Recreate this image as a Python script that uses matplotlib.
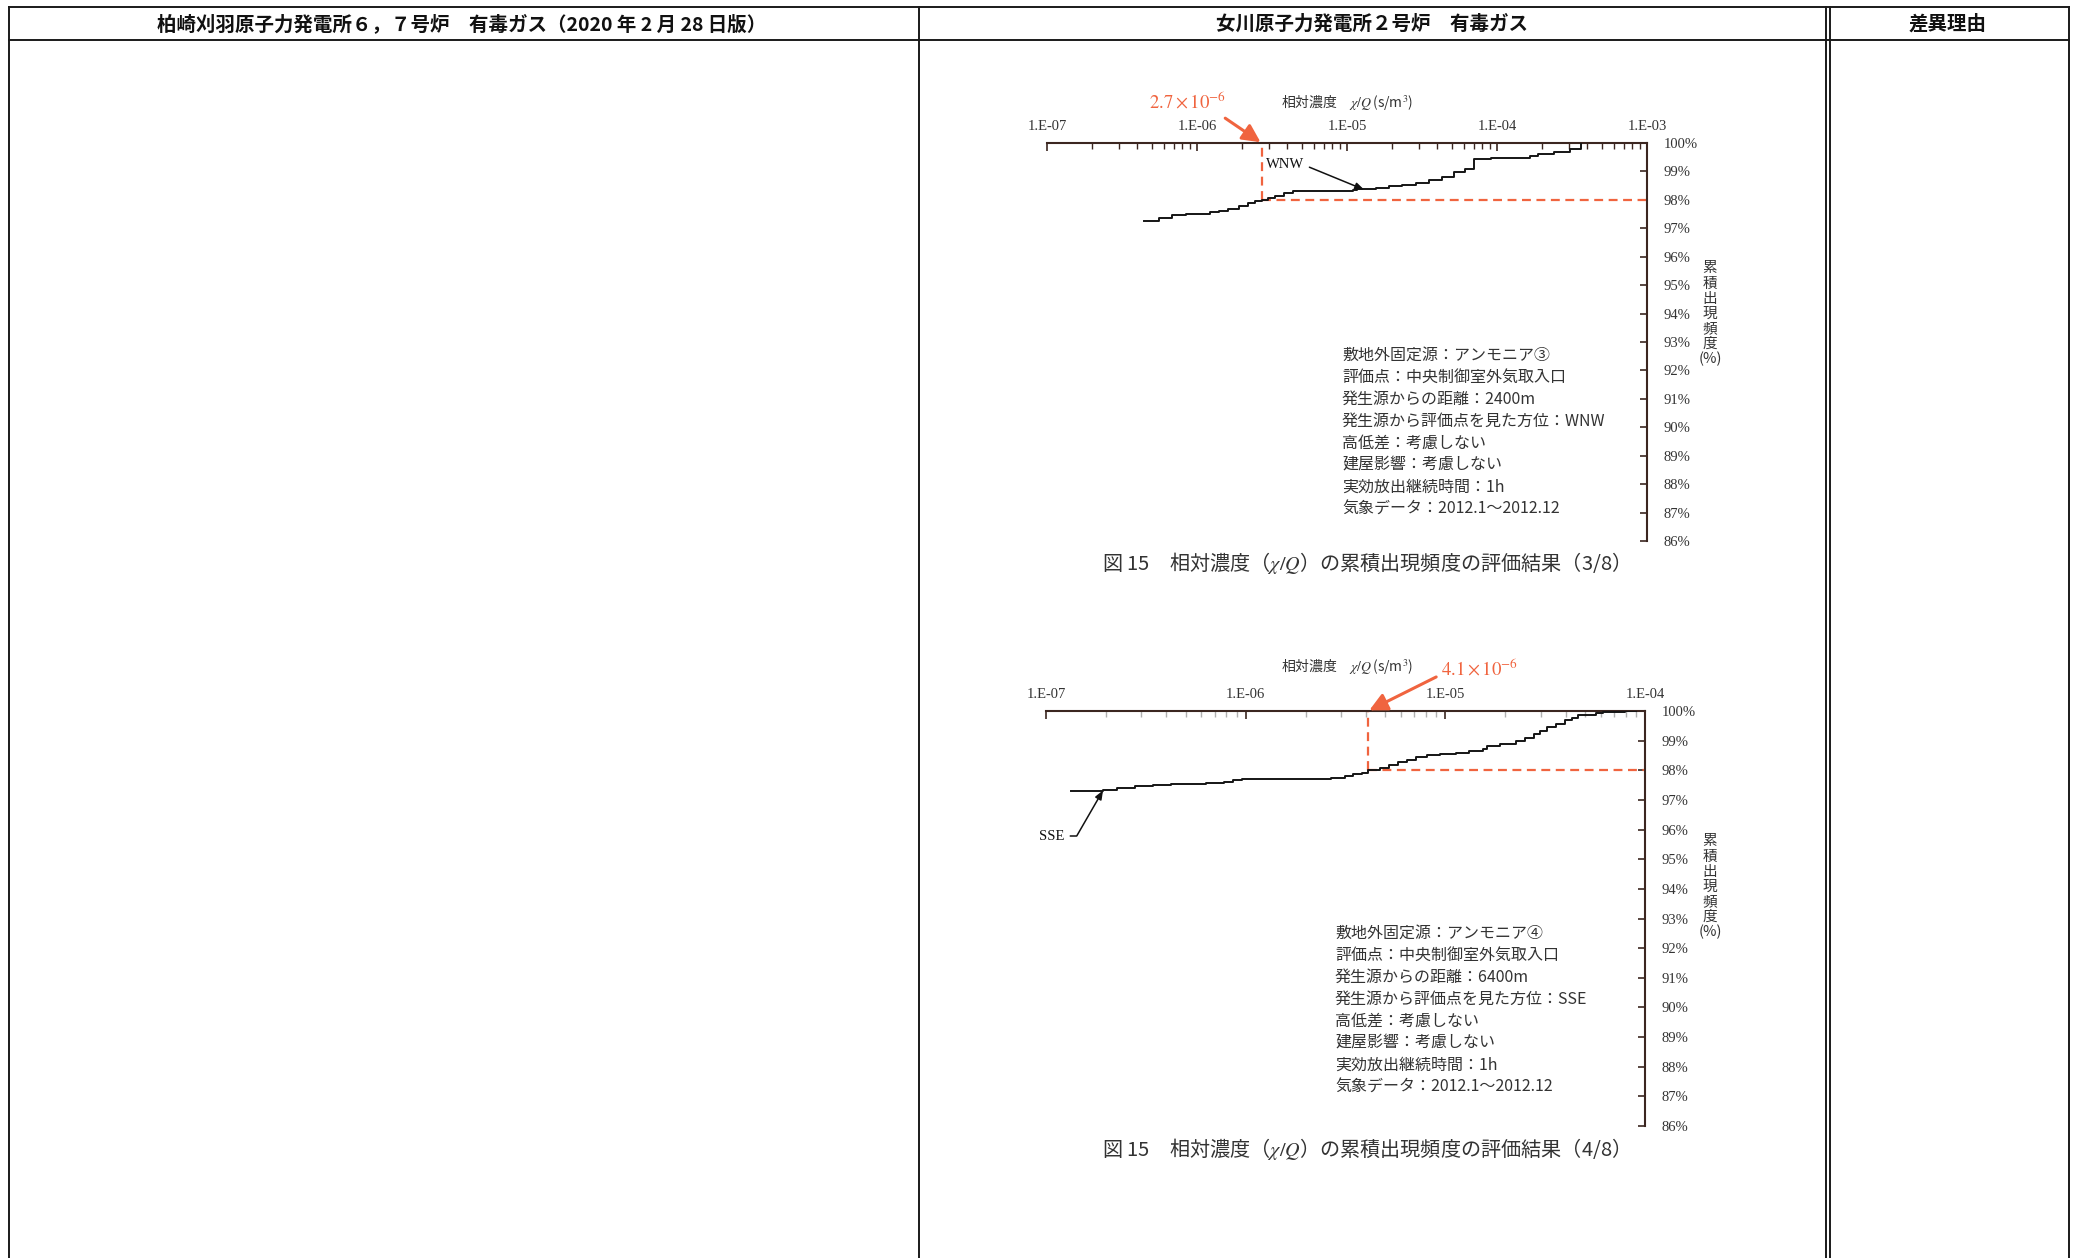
"""
Comparison page: cumulative frequency of relative concentration (chi/Q),
two step curves (WNW, SSE) drawn inside a three-column table layout.
"""

import matplotlib

matplotlib.use("Agg")

import matplotlib.pyplot as plt
import numpy as np
from matplotlib.ticker import FixedLocator, FuncFormatter, LogLocator, NullFormatter

W, H = 2078, 1258

plt.rcParams["font.family"] = ["Noto Sans CJK JP", "DejaVu Sans"]
plt.rcParams["mathtext.fontset"] = "stix"

# ---------------------------------------------------------------------------
# Data
# ---------------------------------------------------------------------------

HEADERS = [
    "柏崎刈羽原子力発電所６，７号炉　有毒ガス（2020 年 2 月 28 日版）",
    "女川原子力発電所２号炉　有毒ガス",
    "差異理由",
]

# Figure 15 (3/8): WNW, chi/Q in s/m^3 vs cumulative frequency in %
WNW_X = [4.4e-7, 5.6e-7, 6.8e-7, 8.4e-7, 1.22e-6, 1.40e-6, 1.61e-6, 1.91e-6,
         2.19e-6, 2.43e-6, 2.7e-6, 2.98e-6, 3.30e-6, 3.79e-6, 4.35e-6,
         1.10e-5, 1.17e-5, 1.55e-5, 1.90e-5, 2.33e-5, 2.87e-5, 3.52e-5,
         4.33e-5, 5.13e-5, 6.09e-5, 6.99e-5, 9.19e-5, 1.65e-4, 1.89e-4,
         2.40e-4, 3.05e-4, 3.62e-4]
WNW_Y = [97.24, 97.35, 97.45, 97.50, 97.57, 97.62, 97.67, 97.77,
         97.90, 97.97, 98.00, 98.08, 98.15, 98.23, 98.31,
         98.34, 98.37, 98.41, 98.47, 98.52, 98.60, 98.70,
         98.81, 98.99, 99.10, 99.43, 99.48, 99.53, 99.63,
         99.70, 99.80, 100.0]

# Figure 15 (4/8): SSE
SSE_X = [1.33e-7, 1.93e-7, 2.28e-7, 2.79e-7, 3.43e-7, 4.21e-7, 6.35e-7, 7.80e-7,
         8.64e-7, 9.57e-7, 2.68e-6, 3.13e-6, 3.46e-6, 3.84e-6, 4.1e-6,
         4.71e-6, 5.22e-6, 5.78e-6, 6.41e-6, 7.10e-6, 8.07e-6, 9.42e-6,
         1.13e-5, 1.32e-5, 1.54e-5, 1.62e-5, 1.88e-5, 2.25e-5, 2.50e-5,
         2.77e-5, 2.99e-5, 3.24e-5, 3.58e-5, 3.97e-5, 4.29e-5, 4.63e-5,
         5.69e-5, 6.14e-5, 7.94e-5, 9.03e-5]
SSE_Y = [97.29, 97.35, 97.40, 97.47, 97.52, 97.54, 97.58, 97.62,
         97.67, 97.72, 97.75, 97.80, 97.86, 97.92, 98.00,
         98.07, 98.18, 98.27, 98.36, 98.44, 98.51, 98.55,
         98.60, 98.65, 98.72, 98.82, 98.88, 98.98, 99.10,
         99.21, 99.33, 99.47, 99.56, 99.68, 99.78, 99.86,
         99.92, 99.95, 99.99, 100.0]

THRESHOLDS = [2.7e-6, 4.1e-6]
THRESHOLD_LABELS = [r"$2.7\times10^{-6}$", r"$4.1\times10^{-6}$"]
TARGET_PCT = 98.0
Y_TICKS = list(range(86, 101))

INFO_3 = ["敷地外固定源：アンモニア③", "評価点：中央制御室外気取入口",
          "発生源からの距離：2400m", "発生源から評価点を見た方位：WNW",
          "高低差：考慮しない", "建屋影響：考慮しない",
          "実効放出継続時間：1h", "気象データ：2012.1～2012.12"]
INFO_4 = ["敷地外固定源：アンモニア④", "評価点：中央制御室外気取入口",
          "発生源からの距離：6400m", "発生源から評価点を見た方位：SSE",
          "高低差：考慮しない", "建屋影響：考慮しない",
          "実効放出継続時間：1h", "気象データ：2012.1～2012.12"]

CAPTIONS = [
    "図 15　相対濃度（$\\chi/Q$）の累積出現頻度の評価結果（3/8）",
    "図 15　相対濃度（$\\chi/Q$）の累積出現頻度の評価結果（4/8）",
]

RED = "#f0643f"
INK = "#333333"
AXIS = "#3b2620"
SERIF = "Liberation Serif"


def px_axes(fig, left, top, right, bottom):
    return fig.add_axes([left / W, 1 - bottom / H, (right - left) / W, (bottom - top) / H])


def fig_xy(x, y):
    return x / W, 1 - y / H


def exp_label(v, _pos):
    return f"1.E-{abs(int(round(np.log10(v)))):02d}"


def draw_chart(fig, box, xlim, xs, ys, thr, thr_label, label_pos, arrow_from,
               dir_name, dir_text, dir_tip, dir_rel, conn, info, info_xy,
               caption, cap_y, ylab_xy, title_y, minor_color):
    left, top, right, bottom = box
    ax = px_axes(fig, left, top, right, bottom)
    ax.patch.set_alpha(0)
    ax.set_xscale("log")
    ax.set_xlim(*xlim)
    ax.set_ylim(86, 100)

    ax.step(xs, ys, where="post", color="#151515", linewidth=1.4, zorder=3)

    # threshold guide lines
    ax.plot([thr, thr], [TARGET_PCT, 100], color=RED, linewidth=1.6,
            linestyle=(0, (4, 2.5)), zorder=2)
    ax.plot([thr, xlim[1]], [TARGET_PCT, TARGET_PCT], color=RED, linewidth=1.6,
            linestyle=(0, (4, 2.5)), zorder=2)

    for s in ("left", "bottom"):
        ax.spines[s].set_visible(False)
    for s in ("top", "right"):
        ax.spines[s].set_color(AXIS)
        ax.spines[s].set_linewidth(1.5)

    ax.xaxis.tick_top()
    ax.xaxis.set_major_locator(LogLocator(base=10, numticks=10))
    ax.xaxis.set_minor_locator(LogLocator(base=10, subs=np.arange(2, 10), numticks=20))
    ax.xaxis.set_major_formatter(FuncFormatter(exp_label))
    ax.xaxis.set_minor_formatter(NullFormatter())
    ax.tick_params(axis="x", which="major", direction="in", length=6, width=1.2,
                   color=AXIS, top=True, bottom=False, labeltop=True,
                   labelbottom=False, pad=7, labelsize=10.5)
    ax.tick_params(axis="x", which="minor", direction="in", length=4, width=1.0,
                   color=minor_color, top=True, bottom=False)

    ax.yaxis.tick_right()
    ax.yaxis.set_major_locator(FixedLocator(Y_TICKS))
    ax.yaxis.set_major_formatter(FuncFormatter(lambda v, _p: f"{int(v)}%"))
    ax.tick_params(axis="y", direction="in", length=5, width=1.2, color=AXIS,
                   right=True, left=False, labelright=True, labelleft=False,
                   pad=12, labelsize=10.5)
    for lab in ax.get_xticklabels() + ax.get_yticklabels():
        lab.set_fontfamily(SERIF)
        lab.set_color(INK)

    # red threshold annotation
    ax.annotate(thr_label, xy=(thr, 100), xycoords="data",
                xytext=(label_pos[0], H - label_pos[1]), textcoords="figure pixels",
                ha="center", va="center", fontsize=13.5, color=RED, zorder=5,
                arrowprops=dict(arrowstyle="-|>,head_length=0.8,head_width=0.4",
                                color=RED, linewidth=2.2, shrinkA=2, shrinkB=1,
                                relpos=arrow_from))

    # direction label with pointer
    ax.annotate(dir_name, xy=dir_tip, xycoords="data",
                xytext=(dir_text[0], H - dir_text[1]), textcoords="figure pixels",
                ha="center", va="center", fontsize=10.5, color="#111111",
                fontfamily=SERIF, zorder=5,
                arrowprops=dict(arrowstyle="-|>,head_length=0.5,head_width=0.2",
                                color="#111111", linewidth=1.1, shrinkA=2, shrinkB=0,
                                relpos=dir_rel, connectionstyle=conn))

    # axis title above the top axis
    tx, ty = fig_xy(1347, title_y)
    fig.text(tx, ty, "相対濃度　$\\chi/Q\\,$(s/m$^3$)", ha="center", va="center",
             fontsize=10, color=INK)

    # vertical y label
    yx, yy = fig_xy(*ylab_xy)
    fig.text(yx, yy, "累\n積\n出\n現\n頻\n度\n(%)", ha="center", va="center",
             fontsize=10.5, color=INK, linespacing=1.1)

    # info block
    for i, line in enumerate(info):
        ix, iy = fig_xy(info_xy[0], info_xy[1] + i * 22.1)
        fig.text(ix, iy, line, ha="left", va="center", fontsize=11.5, color=INK)

    cx, cy = fig_xy(1361, cap_y)
    fig.text(cx, cy, caption, ha="center", va="center", fontsize=14.5, color=INK)
    return ax


fig = plt.figure(figsize=(W / 100, H / 100), dpi=100)
fig.patch.set_facecolor("white")

# table frame in pixel coordinates
frame = fig.add_axes([0, 0, 1, 1])
frame.set_xlim(0, W)
frame.set_ylim(H, 0)
frame.axis("off")
LINE = dict(color="#1a1a1a", linewidth=1.4)
for y in (7, 40):
    frame.plot([9, 2069], [y, y], **LINE)
for x in (9, 919, 1826, 1830, 2069):
    frame.plot([x, x], [7, H], **LINE)
for cx, text in zip((462, 1372, 1948), HEADERS):
    frame.text(cx, 24, text, ha="center", va="center", fontsize=14,
               color="#111111", fontweight="bold")

draw_chart(fig, (1047, 143, 1647, 541), (1e-7, 1e-3), WNW_X, WNW_Y,
           THRESHOLDS[0], THRESHOLD_LABELS[0], (1188, 103), (0.9, 0.0),
           "WNW", (1285, 165), (1.3e-5, 98.36), (1.0, 0.5), "arc3",
           INFO_3, (1342, 355), CAPTIONS[0], 563, (1710, 314), 103, AXIS)

draw_chart(fig, (1046, 711, 1645, 1126), (1e-7, 1e-4), SSE_X, SSE_Y,
           THRESHOLDS[1], THRESHOLD_LABELS[1], (1480, 670), (0.0, 0.3),
           "SSE", (1052, 836), (1.93e-7, 97.32), (1.0, 0.5),
           "angle,angleA=0,angleB=60,rad=0",
           INFO_4, (1335, 933), CAPTIONS[1], 1149, (1710, 887), 666, "#b0b0b0")

fig.savefig("out.png", dpi=100)
